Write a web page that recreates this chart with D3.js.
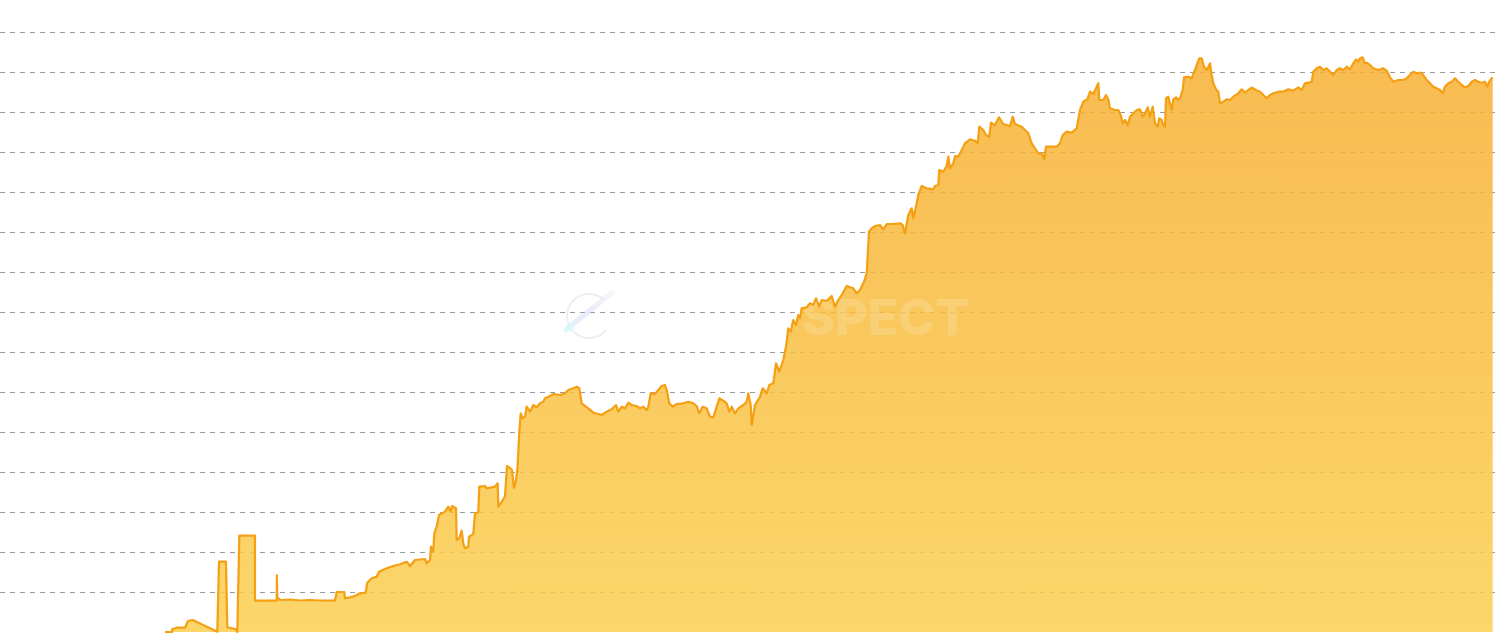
<!DOCTYPE html>
<html>
<head>
<meta charset="utf-8">
<script src="https://cdn.jsdelivr.net/npm/d3@7/dist/d3.min.js"></script>
<style>
  html, body { margin: 0; padding: 0; background: #fff; }
  svg { display: block; }
</style>
</head>
<body>
<svg id="chart" width="1500" height="633"></svg>
<script>
// ---- data ----
// day offset from the start of the series
const days = [
  0,7,7,12,20,23,27.7,52.3,54,61,
  62.3,71,72.3,74.3,90,90,111.7,111.9,112.3,115,
  125,135,145,155,170,171.7,179.3,180,188.3,195,
  200.7,202.3,206.7,211.7,214,221.7,228.3,235,241.7,245,
  250,260,261.7,265,266,268.3,269.3,271.7,274,280,
  283.3,285.7,287,291,291.7,294.3,296.7,298.3,300,303.3,
  304,308.3,310,313.3,314.3,320,321.7,330,332.7,333.3,
  338,340,342,345,347,349,351,352.5,354.3,355.7,
  357.7,360,361.7,365,368.3,371.7,375,378.3,380,385,
  388.3,395,400,403.3,408.3,411.7,414.3,416.7,420,423.3,
  428.3,433.3,436.7,441.7,446.7,451,453.3,456.7,460,463.3,
  466.7,471.7,475,478.3,481.7,483.3,485.7,490,493.3,496.7,
  500,501.7,504.3,507.7,511.7,518.3,523.3,528.3,531.7,534.3,
  537.7,541.7,545,548.3,551.7,554.3,558.3,561.7,564.3,566.7,
  570,573.3,578.3,581.7,583.3,585.7,586.7,590,595,597.7,
  601.7,604.3,608.3,611,614.3,618.3,621,623.3,625.7,628.3,
  631,633.3,635,636.7,641.7,645,648.3,651,654.3,656.7,
  661.7,666.7,670,673.3,677.7,681.7,685,688.3,691.7,695,
  699,701.7,703,704,706.7,710,715,718.3,721.7,728.3,
  735,737.7,740,743.3,746.7,748.3,751.7,753.3,756.7,761.7,
  768.3,770,773.3,774.3,778.3,781.7,783.3,785,788.3,790,
  793.3,796.7,800,805,810,812.7,814.3,818.3,821,824.3,
  826,830,834,838.3,845,847.7,850,856.7,863.3,866.7,
  870,873.3,876.7,879.3,881,886.7,891.7,895,897.7,901.7,
  906.7,911.7,915,918.3,922.3,925,928.3,931,933.3,934.3,
  938.3,941,943.3,945,950,953.3,955.7,957.7,960,962.7,
  965,968.3,971.7,975,977.7,980,982.7,985,987.7,990,
  992.7,994.3,996.7,998.3,1000,1001,1003.3,1005,1006.7,1008.3,
  1011,1013.3,1015,1017.7,1019,1023.3,1026.7,1030,1031.7,1034.3,
  1036.7,1039,1041.7,1043.3,1045,1046.7,1048.3,1051,1053.3,1055,
  1058.3,1061.7,1065,1068.3,1073.3,1076.7,1080,1083.3,1086.7,1091,
  1095,1098.3,1101.7,1105,1108.3,1113.3,1118.3,1123.3,1128.3,1133.3,
  1136.7,1140,1143.3,1146.7,1148.3,1151.7,1155,1158.3,1161.7,1165,
  1168.3,1171.7,1175,1178.3,1181.7,1185,1188.3,1191,1193.3,1195,
  1197.7,1200,1201.7,1205,1208.3,1213.3,1218.3,1221.7,1225,1228.3,
  1233.3,1238.3,1241.7,1245.7,1248.3,1251.7,1255.7,1258.3,1261.7,1265,
  1268.3,1271.7,1275,1277.7,1280,1283.3,1286.7,1290,1293.3,1296.7,
  1300,1303.3,1306.7,1310,1313.3,1316.7,1320,1322.3,1324.3,1326.7,
  1327.7
];
const values = [
  0,0,2.7,4.3,4.3,11,12,0.3,70.3,70.3,
  4.7,2.7,0,96.3,96.3,31.3,31.3,56.7,34.7,32,
  32.5,31.5,32,31.5,31.5,40,40,33.7,35.3,38.7,
  39.3,49.3,53.7,55.3,60.3,63.7,66,67.7,70.3,66,
  72,73,68.7,72,85.3,80.3,98.7,105.3,117,120.3,
  125.3,120.3,126,123.7,92,93.7,101.3,88.7,83.7,85.3,
  95.3,98,118.7,119.7,145.3,146,143.7,145.3,148.7,125.3,
  132,136,166,164,162,144,152,164,200.3,218.7,
  213.7,215.3,225.3,220.3,227,224.7,228.7,230.3,233.7,236,
  238,237,238.7,242,243.7,245.3,243.7,228.7,226,223.7,
  219.3,218,217,220.3,222.7,227,220.3,225.3,223.7,229.3,
  227,226,223.7,225.3,222,225.3,238.7,238,242,246,
  247,242,228.7,225.3,228,228.7,230.3,228.7,226,218.7,
  225.3,223.7,215.3,214.7,225.3,233.7,231.3,228.7,220.3,225.3,
  218.7,223.7,227,230.3,238.7,227,207,227,235.3,243.7,
  238.7,247,248.7,268.7,260.3,272,285.3,303.7,300.3,312,
  307,317,313.7,323.7,324.7,328.7,327,333.7,325.3,332,
  331,336,325.3,332,338.7,346,344.7,343.7,338.7,342,
  350.3,358.7,382,400.3,403.7,406,407,402.7,408,408,
  408.7,407,398.7,417,423.7,413.7,428.7,437,446,443.7,
  442.7,446,447,462,460.3,466,475.3,463.7,468.7,476,
  475.3,482,488.7,492.7,491.3,488.7,505.3,502,497,495.3,
  509.3,507,514.7,508,506,515.3,508,505.3,498.7,488.7,
  483.7,478.7,478.7,472.7,485.3,485.3,485.3,488.7,497,500.3,
  499.3,503.7,522,530.3,532.7,540.3,538,543.7,548.7,532,
  532,537,532.7,523.7,522,522,517,508.7,512,507,
  515.3,518.7,522,522.7,515.3,518.7,524.7,515.3,525.3,508.7,
  505.3,513.7,512,507,505.3,533.7,535.3,528.7,522,532.7,
  534.7,532,533.7,542,554.7,555.3,553.7,562,567,573.7,
  573.7,565.3,562,565.3,568.7,557,548.7,542.7,540.3,528.7,
  530.3,532.7,532,535.3,538.7,542.7,539.3,542,544.3,542,
  540.3,537,533.7,537,538.7,540.3,540.3,542.7,541.3,544.7,
  542,548.7,549.3,550.3,560.3,563.7,565.3,562,563.7,560.3,
  557,562,563.7,562,565.3,562.7,568.7,572.7,570.3,573.7,
  574.7,568.7,569.3,567,563.7,562,563.7,561.3,554.7,550.3,
  552,552,553.7,558,560.3,558.7,559.3,557,552,548.7,
  545.3,543.7,542,538.7,545.3,548.7,550.3,553.7,550.3,547,
  544.7,546,550.3,552,550.3,549.3,550.3,545.3,550.3,553.7,
  554.7
];
const gridTicks = [40,80,120,160,200,240,280,320,360,400,440,480,520,560,600];

const svg = d3.select("#chart");

const x = d3.scaleLinear().domain([0, 1327.7]).range([165, 1492.7]);
const y = d3.scaleLinear().domain([0, 600]).range([632, 32]);

const n = Math.min(days.length, values.length);
const data = d3.range(n).map(i => ({d: days[i], v: values[i]}));

// gradients
const defs = svg.append("defs");
const grad = defs.append("linearGradient")
  .attr("id", "fillGrad")
  .attr("gradientUnits", "userSpaceOnUse")
  .attr("x1", 0).attr("x2", 0)
  .attr("y1", y(575)).attr("y2", y(0));
grad.append("stop").attr("offset", "0%").attr("stop-color", "#F6AF33");
grad.append("stop").attr("offset", "100%").attr("stop-color", "#FBCF50");

const logoGrad = defs.append("linearGradient")
  .attr("id", "logoGrad")
  .attr("x1", "0%").attr("x2", "100%").attr("y1", "100%").attr("y2", "0%");
logoGrad.append("stop").attr("offset", "0%").attr("stop-color", "#9FE8F5");
logoGrad.append("stop").attr("offset", "50%").attr("stop-color", "#C7B8F5");
logoGrad.append("stop").attr("offset", "100%").attr("stop-color", "#E8E4FA");

// gridlines (y axis with hidden labels)
const yAxis = d3.axisLeft(y).tickValues(gridTicks).tickSize(0).tickFormat("");
const gAxis = svg.append("g").call(yAxis);
gAxis.select(".domain").remove();
gAxis.selectAll(".tick line")
  .attr("x1", 0).attr("x2", 1496)
  .attr("stroke", "#999")
  .attr("stroke-width", 1)
  .attr("stroke-dasharray", "5,5");

// area
const area = d3.area()
  .x(p => x(p.d))
  .y0(y(0))
  .y1(p => y(p.v))
  .curve(d3.curveLinear);
svg.append("path")
  .datum(data)
  .attr("d", area)
  .attr("fill", "url(#fillGrad)")
  .attr("fill-opacity", 0.85);

// watermark
const wm = svg.append("g").attr("opacity", 0.6);
wm.append("path")
  .attr("d", "M604,300 A22,22 0 1 0 606,330")
  .attr("fill", "none").attr("stroke", "#e3e5ec").attr("stroke-width", 2);
wm.append("path")
  .attr("d", "M566,330 L608,296 L612,293 L570,326 Z")
  .attr("fill", "url(#logoGrad)").attr("stroke", "url(#logoGrad)").attr("stroke-width", 5)
  .attr("stroke-linejoin", "round").attr("opacity", 0.5);
wm.append("circle").attr("cx", 570).attr("cy", 327).attr("r", 4).attr("fill", "#BFF3FA").attr("opacity", 0.6);
svg.append("text")
  .attr("x", 802).attr("y", 335)
  .attr("font-family", "Inter, 'Open Sans', sans-serif")
  .attr("font-weight", 800)
  .attr("font-size", 50)
  .attr("fill", "#fff")
  .attr("fill-opacity", 0.16)
  .text("SPECT");

// line
const line = d3.line()
  .x(p => x(p.d))
  .y(p => y(p.v))
  .curve(d3.curveLinear);
svg.append("path")
  .datum(data)
  .attr("d", line)
  .attr("fill", "none")
  .attr("stroke", "#F4A012")
  .attr("stroke-width", 2.2)
  .attr("stroke-linejoin", "round");
</script>
</body>
</html>
